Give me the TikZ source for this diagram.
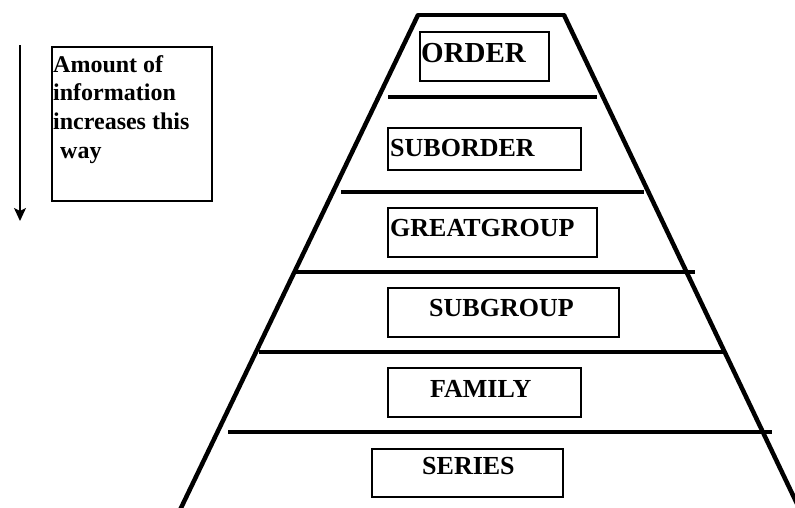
\documentclass[tikz,border=0pt]{standalone}
\usepackage{fontspec}
\setmainfont{Liberation Serif}
\usetikzlibrary{arrows.meta}
\begin{document}
\begin{tikzpicture}[x=1pt,y=-1pt,
  thick line/.style={line width=4.5pt},
  rankbox/.style={draw, line width=2pt, inner sep=0pt},
  rank/.style={anchor=base west, inner sep=0pt, font=\bfseries\fontsize{26}{30}\selectfont},
  note/.style={anchor=base west, inner sep=0pt, font=\bfseries\fontsize{24}{29}\selectfont}]
\useasboundingbox (0,0) rectangle (795,507);
\clip (0,0) rectangle (795,507);
% pyramid
\coordinate (tl) at (418,15);
\coordinate (tr) at (564,15);
\coordinate (bl) at (180,510);
\coordinate (br) at (800,510);
\draw[thick line, line cap=round] (tl) -- (tr);
\draw[thick line] (tl) -- (bl);
\draw[thick line] (tr) -- (br);
% separators
\coordinate (s1a) at (388,97);  \coordinate (s1b) at (597,97);
\coordinate (s2a) at (341,192); \coordinate (s2b) at (644,192);
\coordinate (s3a) at (293,272); \coordinate (s3b) at (695,272);
\coordinate (s4a) at (259,352); \coordinate (s4b) at (724,352);
\coordinate (s5a) at (228,432); \coordinate (s5b) at (772,432);
\foreach \i in {1,...,5} \draw[thick line] (s\i a) -- (s\i b);
% boxes
\node[rankbox, minimum width=129pt, minimum height=49pt] (b1) at (484.5,56.5) {};
\node[rankbox, minimum width=193pt, minimum height=42pt] (b2) at (484.5,149) {};
\node[rankbox, minimum width=209pt, minimum height=49pt] (b3) at (492.5,232.5) {};
\node[rankbox, minimum width=231pt, minimum height=49pt] (b4) at (503.5,312.5) {};
\node[rankbox, minimum width=193pt, minimum height=49pt] (b5) at (484.5,392.5) {};
\node[rankbox, minimum width=191pt, minimum height=48pt] (b6) at (467.5,473) {};
% labels
\node[rank, font=\bfseries\fontsize{29}{32}\selectfont] (t1) at (421,62) {ORDER};
\node[rank] (t2) at (390,156) {SUBORDER};
\node[rank] (t3) at (390,236) {GREATGROUP};
\node[rank] (t4) at (429,316) {SUBGROUP};
\node[rank] (t5) at (430,397) {FAMILY};
\node[rank] (t6) at (422,474) {SERIES};
% note box
\node[draw, line width=1.6pt, minimum width=160pt, minimum height=154pt, inner sep=0pt] (nb) at (132,124) {};
\node[note] (n1) at (53,72) {Amount of};
\node[note] (n2) at (53,100) {information};
\node[note] (n3) at (53,129) {increases this};
\node[note] (n4) at (60,158) {way};
% arrow
\coordinate (a1) at (20,45);
\coordinate (a2) at (20,221);
\draw[line width=1.6pt, -{Stealth[length=13pt, width=12pt, inset=3pt]}] (a1) -- (a2);
\end{tikzpicture}
\end{document}
